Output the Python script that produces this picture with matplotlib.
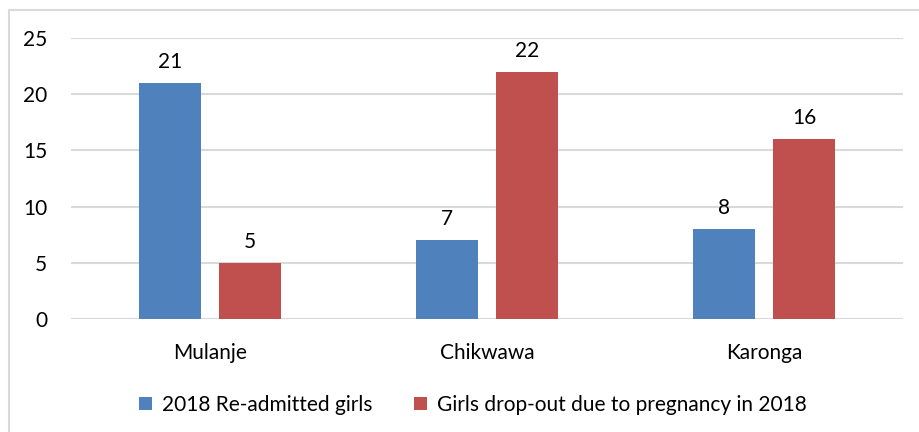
import numpy as np
import matplotlib.pyplot as plt
from matplotlib.patches import Rectangle

plt.rcParams['font.family'] = ['Lato', 'DejaVu Sans']

districts = ['Mulanje', 'Chikwawa', 'Karonga']
readmitted = [21, 7, 8]
dropout = [5, 22, 16]
series_names = ['2018 Re-admitted girls', 'Girls drop-out due to pregnancy in 2018']
colors = ['#4F81BD', '#C0504D']

fig = plt.figure(figsize=(9.19, 4.32), dpi=100)
ax = fig.add_axes([71/919, 1 - 319/432, 832/919, 281/432])

# outer frame of the chart (cut at right and bottom as in the original)
fig.patches.append(Rectangle((9/919, -0.1), 1.2, (432-10)/432 + 0.1,
                             transform=fig.transFigure, fill=False,
                             edgecolor='#d9d9d9', linewidth=1.5))

x = np.arange(len(districts))
w = 0.2236
off = 0.144
b1 = ax.bar(x - off, readmitted, w, color=colors[0], label=series_names[0], zorder=3)
b2 = ax.bar(x + off, dropout, w, color=colors[1], label=series_names[1], zorder=3)

for bars in (b1, b2):
    for rect in bars:
        ax.annotate(str(int(rect.get_height())),
                    (rect.get_x() + rect.get_width() / 2, rect.get_height()),
                    xytext=(0, 8), textcoords='offset points',
                    ha='center', va='bottom', fontsize=15, color='#000000')

ax.set_xlim(-0.5, 2.5)
ax.set_ylim(0, 25)
ax.set_yticks(range(0, 26, 5))
ax.set_xticks(x)
ax.set_xticklabels(districts)
ax.yaxis.grid(True, color='#d9d9d9', linewidth=1.5, zorder=0)
for s in ax.spines.values():
    s.set_visible(False)
ax.tick_params(axis='both', length=0, labelsize=15, colors='#000000')
ax.tick_params(axis='x', pad=17)
ax.tick_params(axis='y', pad=17)

ax.legend(loc='center', bbox_to_anchor=(0.515, (432-405)/432), bbox_transform=fig.transFigure,
          ncol=2, frameon=False, fontsize=15, handlelength=0.6, handleheight=0.6,
          handletextpad=0.5, columnspacing=2.0)

plt.savefig('out.png', dpi=100)
